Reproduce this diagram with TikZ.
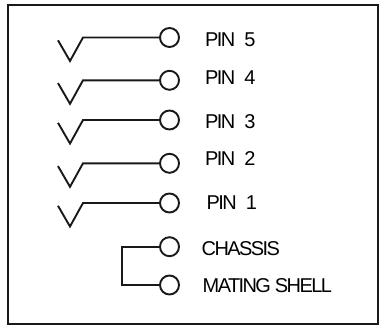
\documentclass[tikz,border=0pt]{standalone}
\usepackage{fontspec}
\setmainfont{Liberation Sans}
\newfontfamily\tightfont[LetterSpace=-8]{Liberation Sans}
\tikzset{
  frameline/.style={draw=black!90,line width=2pt},
  wire/.style={draw=black!90,line width=1.9pt,line join=miter},
  pincircle/.style={circle,draw=black!90,line width=1.9pt,minimum size=19pt,inner sep=0pt,fill=white},
  pinlabel/.style={anchor=west,inner sep=0pt,font=\fontsize{20}{22}\tightfont},
  tightlabel/.style={anchor=west,inner sep=0pt,font=\fontsize{20}{22}\tightfont}
}
\begin{document}
\begin{tikzpicture}[x=1pt,y=-1pt]
\useasboundingbox (0,0) rectangle (383,327);
\draw[frameline] (8,4.5) rectangle (378,323.5);
\foreach \n/\y in {5/37.5,4/80.3,3/120,2/163.3,1/203}{
  \node[pincircle] (c\n) at (169.5,\y) {};
  \coordinate (k\n) at (83,\y);
  \coordinate (t\n) at (58,\y+2.8);
  \coordinate (b\n) at (70,\y+23.5);
  \draw[wire] (t\n) -- (b\n) -- (k\n) -- (c\n);
}
\node[pincircle] (cc) at (169.5,246.7) {};
\node[pincircle] (cm) at (169.5,285) {};
\coordinate (ba) at (122,246.7);
\coordinate (bb) at (122,285);
\draw[wire] (cc) -- (ba) -- (bb) -- (cm);
\node[pinlabel] (l5) at (205,40) {PIN\hspace{5pt} 5};
\node[pinlabel] (l4) at (205,77.5) {PIN\hspace{5pt} 4};
\node[pinlabel] (l3) at (205,122) {PIN\hspace{5pt} 3};
\node[pinlabel] (l2) at (205,158.5) {PIN\hspace{5pt} 2};
\node[pinlabel] (l1) at (206.5,203) {PIN\hspace{5pt} 1};
\node[tightlabel] (lc) at (201.5,249) {CHASSIS};
\node[tightlabel] (lm) at (202.5,286) {MATING SHELL};
\end{tikzpicture}
\end{document}
